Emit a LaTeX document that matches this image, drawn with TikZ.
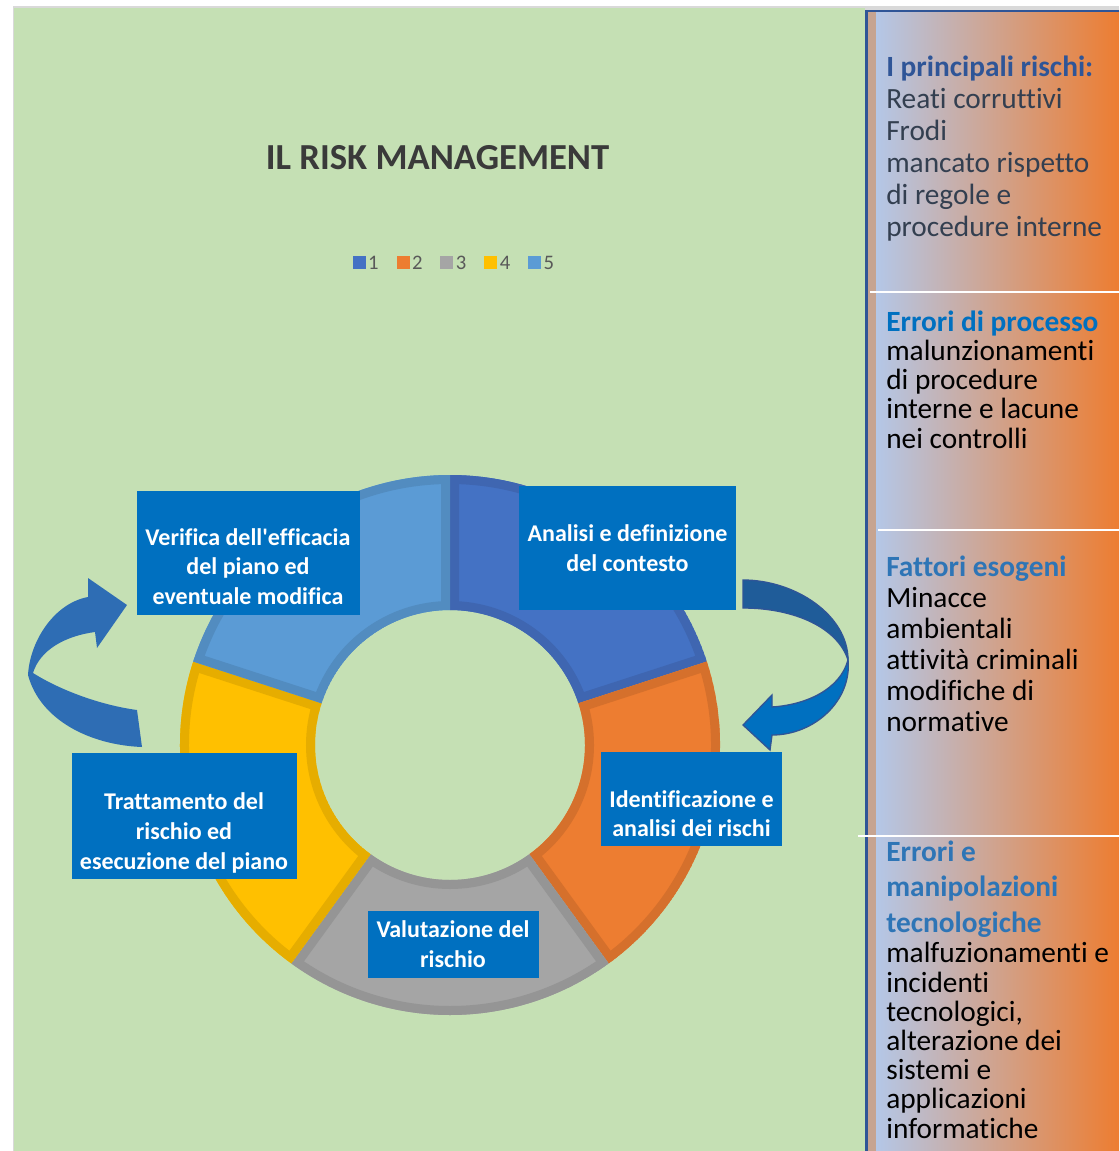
\documentclass[tikz,border=0pt]{standalone}
\usepackage{fontspec}
\setmainfont{Carlito}[Ligatures=NoCommon]
\usetikzlibrary{positioning}

\definecolor{bggreen}{HTML}{C5E0B4}
\definecolor{framegray}{HTML}{D9D9D9}
\definecolor{panelline}{HTML}{2F5597}
\definecolor{paneltan}{HTML}{C6A491}
\definecolor{panelblue}{HTML}{B4C7E7}
\definecolor{panelorange}{HTML}{ED7D31}
\definecolor{seg1}{HTML}{4472C4}
\definecolor{seg1d}{HTML}{3F66B1}
\definecolor{seg2}{HTML}{ED7D31}
\definecolor{seg2d}{HTML}{D5702C}
\definecolor{seg3}{HTML}{A5A5A5}
\definecolor{seg3d}{HTML}{959595}
\definecolor{seg4}{HTML}{FFC000}
\definecolor{seg4d}{HTML}{E6AD00}
\definecolor{seg5}{HTML}{5B9BD5}
\definecolor{seg5d}{HTML}{528CC0}
\definecolor{boxblue}{HTML}{0070C0}
\definecolor{titlegray}{HTML}{3A3A3A}
\definecolor{legtext}{HTML}{595959}
\definecolor{head1}{HTML}{2F5597}
\definecolor{body1}{HTML}{333F50}
\definecolor{head2}{HTML}{0070C0}
\definecolor{head3}{HTML}{2E75B6}
\definecolor{arrowleft}{HTML}{2E6DB4}
\definecolor{arrowdark}{HTML}{1F5C99}
\definecolor{arrowlight}{HTML}{0070C0}

\begin{document}
\begin{tikzpicture}[x=0.75pt, y=-0.75pt,
  stepbox/.style={fill=boxblue, inner sep=0},
  steptext/.style={text=white, font=\bfseries\fontsize{18}{22.3}\selectfont, align=center, inner sep=0, anchor=base},
  legsq/.style={minimum size=9.75pt, inner sep=0},
  legtx/.style={text=legtext, font=\fontsize{15.5}{18}\selectfont, inner sep=0},
  risktext/.style={align=left, inner sep=0, anchor=base west},
  divline/.style={white, line width=1.5pt}]
  \useasboundingbox (0,0) rectangle (1119,1151);
  \fill[white] (0,0) rectangle (1119,1151);
  \fill[framegray] (12.5,6.5) rectangle (1119,1151);
  \fill[bggreen] (14,8) rectangle (865,1151);

  \fill[paneltan] (867,12) rectangle (876,1151);
  \shade[left color=panelblue, right color=panelorange] (876,12) rectangle (1119,1151);
  \fill[panelline] (865,10) rectangle (1119,12.5);
  \fill[panelline] (865,10) rectangle (867.5,1151);
  \draw[divline] (870,292) -- (1119,292);
  \draw[divline] (878,530) -- (1119,530);
  \draw[divline] (858,836) -- (1119,836);

  \node[font=\bfseries\fontsize{27.5}{33}\selectfont, text=titlegray, anchor=base, inner sep=0] (title) at (437.5,170) {IL RISK MANAGEMENT};

  \node[legsq, fill=seg1] (s1) at (359.2,262.7) {};
  \node[legtx, right=1.5pt of s1] (t1) {1};
  \foreach \i [remember=\i as \p (initially 1)] in {2,...,5} {
    \node[legsq, fill=seg\i, right=13pt of t\p] (s\i) {};
    \node[legtx, right=1.5pt of s\i] (t\i) {\i};
  }

  \begin{scope}[shift={(450,745)}]
    \foreach \s/\fc/\bc [evaluate=\s as \e using \s+72] in {-90/seg1/seg1d, -18/seg2/seg2d, 54/seg3/seg3d, 126/seg4/seg4d, 198/seg5/seg5d} {
      \begin{scope}
        \clip (\s:270) arc[start angle=\s, end angle=\e, radius=270] -- (\e:135) arc[start angle=\e, end angle=\s, radius=135] -- cycle;
        \filldraw[fill=\fc, draw=\bc, line width=13.5pt] (\s:270) arc[start angle=\s, end angle=\e, radius=270] -- (\e:135) arc[start angle=\e, end angle=\s, radius=135] -- cycle;
      \end{scope}
    }
  \end{scope}

  \fill[arrowleft] (142,747) .. controls (90,745) and (40,720) .. (28,675)
    .. controls (30,640) and (55,603) .. (88,597) -- (88,578) -- (127,605) -- (97,648) -- (95,632)
    .. controls (65,636) and (40,650) .. (33,673) .. controls (60,690) and (100,705) .. (137,710) -- cycle;

  \filldraw[fill=arrowdark, draw=panelline, line width=1pt] (743,580) .. controls (795,580) and (848,615) .. (848,660)
    .. controls (838,628) and (795,608) .. (743,608) -- cycle;
  \filldraw[fill=arrowlight, draw=panelline, line width=1pt] (848,660) .. controls (852,700) and (815,735) .. (772,735)
    -- (770,750) -- (743,725) -- (772,695) -- (772,707) .. controls (805,705) and (840,690) .. (848,660) -- cycle;

  \node[stepbox, minimum width=162.75pt, minimum height=93pt] (analisi) at (627.5,548) {};
  \node[stepbox, minimum width=167.25pt, minimum height=93pt] (verifica) at (248.5,553) {};
  \node[stepbox, minimum width=135.75pt, minimum height=70.5pt] (identif) at (691.5,799) {};
  \node[stepbox, minimum width=168.75pt, minimum height=94.5pt] (tratt) at (184.5,816) {};
  \node[stepbox, minimum width=128.25pt, minimum height=50.25pt] (valut) at (453.5,944.5) {};

  \node[steptext] (analisi-t) at (627.5,571.4) {Analisi e definizione\\del contesto};
  \node[steptext] (verifica-t) at (248,604.6) {Verifica dell\textquotesingle efficacia\\del piano ed\\eventuale modifica};
  \node[steptext] (identif-t) at (691.5,836.8) {Identificazione e\\analisi dei rischi};
  \node[steptext] (tratt-t) at (184,869) {Trattamento del\\rischio ed\\esecuzione del piano};
  \node[steptext] (valut-t) at (453,967) {Valutazione del\\rischio};

  \node[risktext, text=body1, font=\fontsize{22}{24}\selectfont] (rischi) at (886,237)
    {{\bfseries\color{head1}I principali rischi:}\\Reati corruttivi\\Frodi\\mancato rispetto\\di regole e\\procedure interne};
  \node[risktext, font=\fontsize{22}{21.9}\selectfont] (processo) at (886,448)
    {{\bfseries\color{head2}Errori di processo}\\malunzionamenti\\di procedure\\interne e lacune\\nei controlli};
  \node[risktext, font=\fontsize{22}{23.25}\selectfont] (esogeni) at (886,731)
    {{\bfseries\color{head3}Fattori esogeni}\\Minacce\\ambientali\\attività criminali\\modifiche di\\normative};
  \node[risktext, text=head3, font=\bfseries\fontsize{22}{26.6}\selectfont] (tecno-h) at (886,932)
    {Errori e\\manipolazioni\\tecnologiche};
  \node[risktext, font=\fontsize{22}{21.9}\selectfont] (tecno) at (886,1138)
    {malfuzionamenti e\\incidenti\\tecnologici,\\alterazione dei\\sistemi e\\applicazioni\\informatiche};
\end{tikzpicture}
\end{document}
